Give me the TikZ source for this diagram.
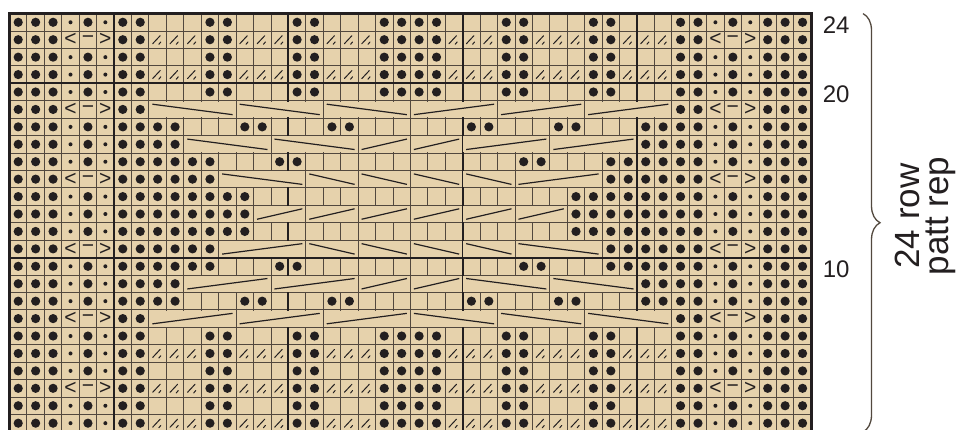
\documentclass[tikz,border=0pt]{standalone}
\usepackage{fontspec}
\setmainfont{Liberation Sans}
\usetikzlibrary{decorations.pathreplacing}
\definecolor{chartbg}{RGB}{230,210,172}
\definecolor{gridcol}{RGB}{82,72,62}
\definecolor{ink}{RGB}{35,31,32}

\begin{document}
\begin{tikzpicture}[
    x=1pt,y=1pt,
    purl/.style={fill=ink},
    gridline/.style={draw=gridcol,line width=0.9pt},
    heavy/.style={draw=ink,line width=2pt},
    cableline/.style={draw=ink,line width=1.2pt},
    slashline/.style={draw=ink,line width=1pt,line cap=round},
    stsym/.style={inner sep=0pt,text=ink,font=\fontsize{21}{24}\selectfont},
    rowlabel/.style={inner sep=0pt,anchor=west,text=ink,font=\fontsize{24}{28}\selectfont}
]
\useasboundingbox (0,0) rectangle (957,430);

\begin{scope}[shift={(9.5pt,-1.9pt)},x=17.43pt,y=17.43pt]
% chart ground and grid
\fill[chartbg] (0,0) rectangle (46,24);
\foreach \col in {1,...,45} \draw[gridline] (\col,0) -- (\col,24);
\foreach \row in {1,...,23} \draw[gridline] (0,\row) -- (46,\row);
\foreach \col in {6,16,26,36} \draw[heavy] (\col,0) -- (\col,24);

% cables, line rising to the right
\foreach \row/\first/\last in {7/9/13,7/14/18,7/19/23,
    9/11/15,9/16/20,9/21/23,9/24/26,11/13/17,
    13/15/17,13/18/20,13/21/23,13/24/26,13/27/29,13/30/32,15/30/34,
    17/21/23,17/24/26,17/27/31,17/32/36,19/24/28,19/29/33,19/34/38} {
  \fill[chartbg] ([xshift=0.8pt,yshift=0.8pt]\first-1,\row-1) rectangle ([xshift=-0.8pt,yshift=-0.8pt]\last,\row);
  \draw[cableline] (\first-0.8,\row-0.8) -- (\last-0.2,\row-0.2);
}
% cables, line falling to the right
\foreach \row/\first/\last in {7/24/28,7/29/33,7/34/38,9/27/31,9/32/36,
    11/18/20,11/21/23,11/24/26,11/27/29,11/30/34,
    15/13/17,15/18/20,15/21/23,15/24/26,15/27/29,
    17/11/15,17/16/20,19/9/13,19/14/18,19/19/23} {
  \fill[chartbg] ([xshift=0.8pt,yshift=0.8pt]\first-1,\row-1) rectangle ([xshift=-0.8pt,yshift=-0.8pt]\last,\row);
  \draw[cableline] (\first-0.8,\row-0.2) -- (\last-0.2,\row-0.8);
}
\foreach \row in {10,20} \draw[heavy] (0,\row) -- (46,\row);

% rib rows
\foreach \row in {1,2,3,4,5,6,20,21,22,23,24}
  \foreach \col in {12,13,17,18,22,23,24,25,29,30,34,35}
    \fill[purl] (\col-0.5,\row-0.5) circle (4.6pt);
\foreach \row in {1,3,5,21,23}
  \foreach \col in {9,10,11,14,15,16,19,20,21,26,27,28,31,32,33,36,37,38} {
    \draw[slashline] (\col-0.5,\row-0.5) ++(-5pt,-4pt) -- ++(7.5pt,8pt);
    \draw[slashline] (\col-0.5,\row-0.5) ++(1.2pt,-4.6pt) -- ++(2pt,2.4pt);
  }

% purl stitches between the cables
\foreach \row/\dotlist in {8/{9,10,14,15,19,20,27,28,32,33,37,38},
    9/{9,10,37,38},
    10/{9,10,11,12,16,17,30,31,35,36,37,38},
    11/{9,10,11,12,35,36,37,38},
    12/{9,10,11,12,13,14,33,34,35,36,37,38},
    13/{9,10,11,12,13,14,33,34,35,36,37,38},
    14/{9,10,11,12,13,14,33,34,35,36,37,38},
    15/{9,10,11,12,35,36,37,38},
    16/{9,10,11,12,16,17,30,31,35,36,37,38},
    17/{9,10,37,38},
    18/{9,10,14,15,19,20,27,28,32,33,37,38}}
  \foreach \col in \dotlist
    \fill[purl] (\col-0.5,\row-0.5) circle (4.6pt);

% edge stitches
\foreach \row in {1,...,24}
  \foreach \col in {1,2,3,7,8,39,40,44,45,46}
    \fill[purl] (\col-0.5,\row-0.5) circle (4.6pt);
\foreach \row in {1,2,4,5,6,8,9,10,12,13,14,16,17,18,20,21,22,24} {
  \foreach \col in {5,42} \fill[purl] (\col-0.5,\row-0.5) circle (4.6pt);
  \foreach \col in {4,6,41,43} \fill[purl] (\col-0.5,\row-0.5) circle (2pt);
}
\foreach \row in {3,7,11,15,19,23} {
  \node[stsym] (lt\row) at (3.5,\row-0.5) {<};
  \node[stsym] (mn\row) at (4.5,\row-0.5) {−};
  \node[stsym] (gt\row) at (5.5,\row-0.5) {>};
  \node[stsym] (ltr\row) at (40.5,\row-0.5) {<};
  \node[stsym] (mnr\row) at (41.5,\row-0.5) {−};
  \node[stsym] (gtr\row) at (42.5,\row-0.5) {>};
}
\draw[ink,line width=3pt] (0,0) rectangle (46,24);

% row numbers
\node[rowlabel] (num24) at (46.65,23.35) {24};
\node[rowlabel] (num20) at (46.65,19.35) {20};
\node[rowlabel] (num10) at (46.65,9.35) {10};
\end{scope}

% repeat brace
\coordinate (bracetop) at (863,416.4);
\coordinate (bracebot) at (863,-1.9);
\draw[gridcol,line width=1.3pt,decorate,decoration={brace,amplitude=17pt}] (bracetop) -- (bracebot);
\node[rotate=90,align=center,inner sep=0pt,text=ink,font=\fontsize{35}{29}\selectfont] (reptext) at (925,214) {24 row\\patt rep};
\end{tikzpicture}
\end{document}
